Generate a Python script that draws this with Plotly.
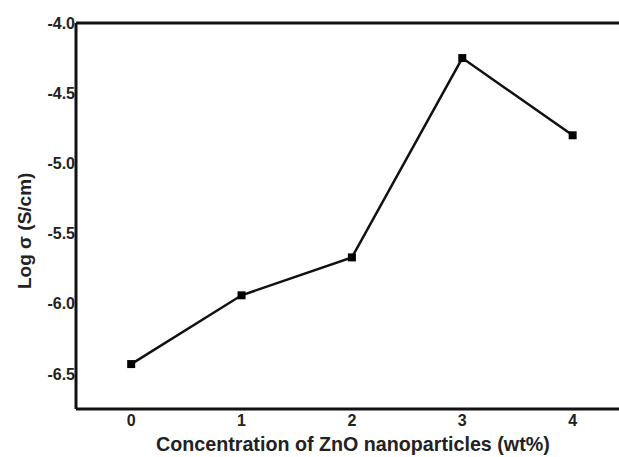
import plotly.graph_objects as go

concentration = [0, 1, 2, 3, 4]
log_sigma = [-6.43, -5.94, -5.67, -4.25, -4.80]
x_ticks = [0, 1, 2, 3, 4]
y_ticks = [-6.5, -6.0, -5.5, -5.0, -4.5, -4.0]
y_tick_text = ["-6.5", "-6.0", "-5.5", "-5.0", "-4.5", "-4.0"]

fig = go.Figure()
fig.add_trace(go.Scatter(
    x=concentration, y=log_sigma, mode="lines+markers",
    line=dict(color="#111111", width=2.5),
    marker=dict(symbol="square", size=8, color="#000000"),
    showlegend=False,
))

font = dict(family="Liberation Sans, Arial, sans-serif", size=16, color="#222222")
fig.update_layout(
    width=619, height=457,
    margin=dict(l=76, r=0, t=23, b=48),
    plot_bgcolor="white", paper_bgcolor="white",
    font=font,
)
# frame lines: top, left, bottom
for x0, x1, y0, y1 in [(0, 1, 1, 1), (0, 0, 0, 1), (0, 1, 0, 0)]:
    fig.add_shape(type="line", xref="paper", yref="paper", x0=x0, x1=x1, y0=y0, y1=y1,
                  line=dict(color="#111111", width=3))
fig.update_xaxes(
    range=[-0.5, 4.42], tickvals=x_ticks, ticktext=[f"<b>{v}</b>" for v in x_ticks],
    showline=False, showgrid=False, zeroline=False, ticks="", ticklabelstandoff=0,
)
fig.update_yaxes(
    range=[-6.75, -4.0], tickvals=y_ticks, ticktext=[f"<b>{t}</b>" for t in y_tick_text],
    showline=False, showgrid=False, zeroline=False, ticks="", ticklabelstandoff=0,
)
fig.add_annotation(text="<b>Concentration of ZnO nanoparticles (wt%)</b>",
                   xref="paper", yref="paper", x=0.51, y=0, yanchor="middle",
                   yshift=-35, showarrow=False, font=dict(size=19.7))
fig.add_annotation(text="<b>Log σ (S/cm)</b>", textangle=-90,
                   xref="paper", yref="paper", x=0, xanchor="center", xshift=-52,
                   y=0.461, yanchor="middle", showarrow=False, font=dict(size=19))
fig.write_html("out.html", config=dict(displayModeBar=False))
